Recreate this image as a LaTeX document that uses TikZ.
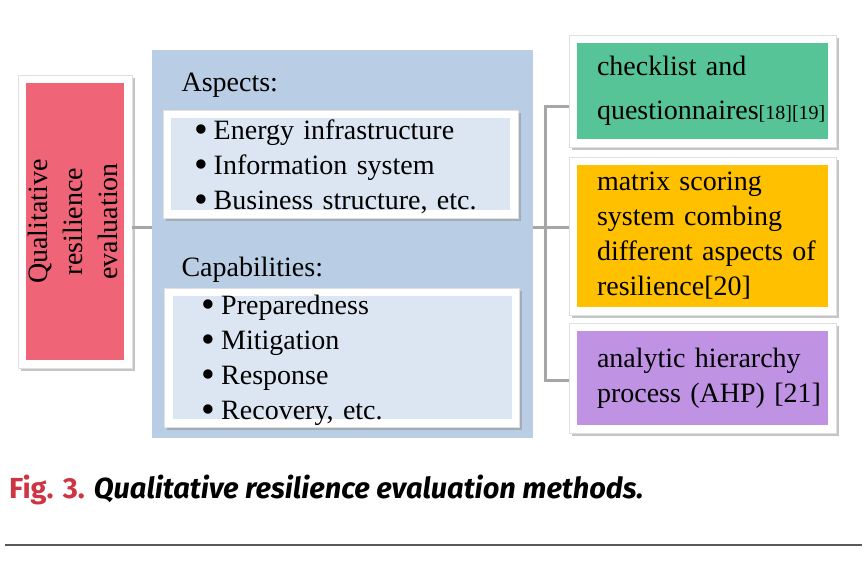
\documentclass[tikz,border=0pt]{standalone}
\usepackage{fontspec}
\setmainfont{Liberation Serif}
\newfontfamily\piefont{Fira Sans}
\usetikzlibrary{shadows}

\definecolor{rosa}{HTML}{F06478}
\definecolor{panelazul}{HTML}{B9CDE5}
\definecolor{celeste}{HTML}{DCE6F2}
\definecolor{verde}{HTML}{56C497}
\definecolor{naranja}{HTML}{FFC000}
\definecolor{morado}{HTML}{BF92E4}
\definecolor{rojopie}{HTML}{CF3443}
\definecolor{gris}{HTML}{A6A6A6}

% Viñeta algo más grande
\newcommand{\vineta}{\smash{\raisebox{-3.4pt}{\scalebox{1.4}{\textbullet}}}\hspace{6pt}}

\begin{document}
\begin{tikzpicture}[x=1pt,y=-1pt,
    font=\fontsize{28}{35}\selectfont,
    marco/.style={fill=white, draw=black!12, line width=0.6pt, inner sep=0pt,
        drop shadow={shadow xshift=2.5pt, shadow yshift=-2.5pt, fill=black!45}},
    relleno/.style={path picture={\fill[#1]
        ([xshift=8pt,yshift=-8pt]path picture bounding box.north west) rectangle
        ([xshift=-8pt,yshift=8pt]path picture bounding box.south east);}},
    lista/.style={marco, relleno=celeste, minimum width=355pt, text width=#1,
        align=left},
    metodo/.style={marco, minimum width=267pt, inner xsep=28pt, text width=211pt,
        align=left},
    enlace/.style={draw=gris, line width=3pt}]

        % Tamaño fijo del dibujo
        \useasboundingbox (0,0) rectangle (867,560);

        % Caja rosa de la izquierda (texto girado)
        \node[marco, relleno=rosa, minimum width=114pt, minimum height=293pt]
            (qual) at (75,221.5)
            {\rotatebox{90}{\begin{tabular}{@{}c@{}}Qualitative\\resilience\\evaluation\end{tabular}}};

        % Panel azul con aspectos y capacidades
        \node[fill=panelazul, minimum width=381pt, minimum height=388pt, inner sep=0pt]
            (panel) at (342.5,244) {};
        \node[anchor=west] (aspectos) at (178,85) {Aspects:};
        \node[lista=293pt, inner xsep=31pt, minimum height=108pt] (listaasp) at (340.5,164)
            {\strut\vineta Energy infrastructure\\
             \vineta Information system\\
             \vineta Business structure, etc.};
        \node[anchor=west] (capacidades) at (178,270) {Capabilities:};
        \node[lista=281pt, inner xsep=37pt, minimum height=139pt] (listacap) at (342,357.5)
            {\strut\vineta Preparedness\\
             \vineta Mitigation\\
             \vineta Response\\
             \vineta Recovery, etc.};

        % Cajas de los métodos a la derecha
        \node[metodo, relleno=verde, minimum height=112pt,
            font=\fontsize{28}{44}\selectfont] (lista) at (702.5,91)
            {checklist and\\
             \mbox{questionnaires{\fontsize{20}{24}\selectfont[18][19]}}};
        \node[metodo, relleno=naranja, minimum height=158pt] (matriz) at (702.5,236)
            {matrix scoring\\system combing\\\mbox{different aspects of}\\resilience[20]};
        \node[metodo, relleno=morado, minimum height=110pt] (ahp) at (702.5,378)
            {analytic hierarchy\\\mbox{process (AHP) [21]}};

        % Conectores grises
        \coordinate (horquilla) at (545,227);
        \draw[enlace] ([yshift=-5.5pt]qual.east) -- ([yshift=-5.5pt]qual.east -| panel.west);
        \draw[enlace] (panel.east |- horquilla) -- (horquilla);
        \draw[enlace] ([yshift=-15pt]lista.west) -| (horquilla) |- ([yshift=-2pt]ahp.west);
        \draw[enlace] (horquilla) -- (matriz.west |- horquilla);

        % Pie de figura y línea final
        \node[anchor=base west, text=rojopie, inner sep=0pt] (pie) at (9,498)
            {\piefont\fontsize{29}{34}\selectfont\bfseries Fig. 3.
             \color{black}\itshape Qualitative resilience evaluation methods.};
        \draw[line width=2pt, black!65] (5,545) -- (862,545);

    \end{tikzpicture}
\end{document}
